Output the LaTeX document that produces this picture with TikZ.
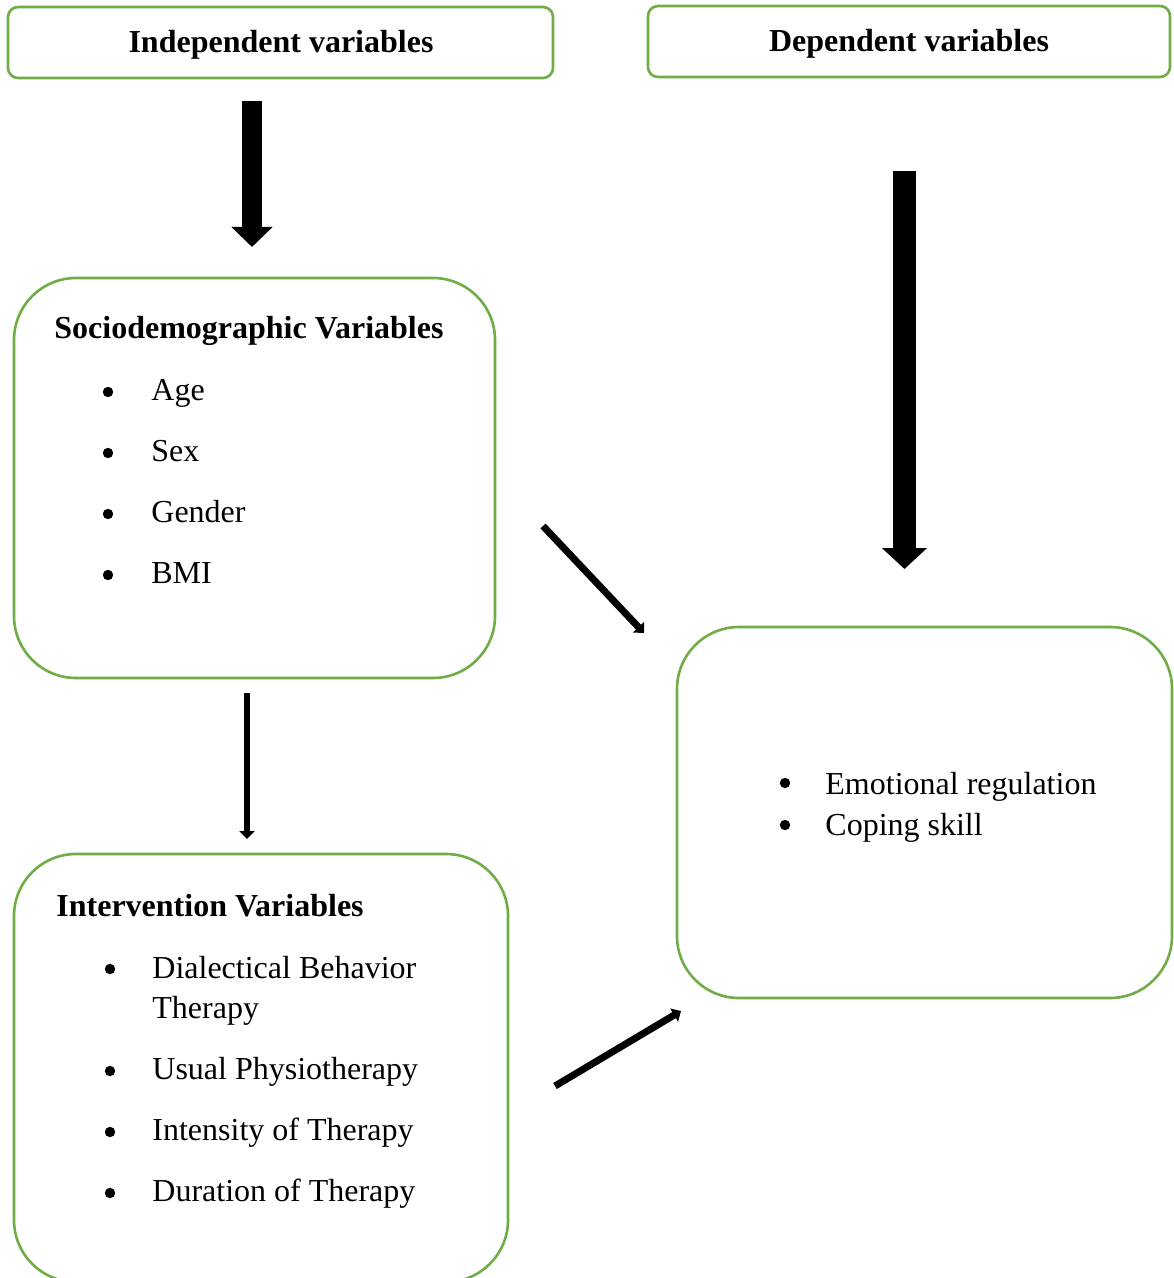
\documentclass[tikz,border=0pt]{standalone}
\usepackage{fontspec}
\setmainfont{Liberation Serif}
\usetikzlibrary{arrows.meta}
\definecolor{boxgreen}{RGB}{112,173,71}
\begin{document}
\begin{tikzpicture}[x=0.5pt,y=-0.5pt,
  frame/.style={draw=boxgreen,line width=1.3pt},
  txt/.style={anchor=base west,inner sep=0pt,font=\fontsize{16}{19}\selectfont},
  ttl/.style={anchor=base west,inner sep=0pt,font=\fontsize{16}{19}\selectfont\bfseries},
  bul/.style={circle,fill=black,inner sep=0pt,minimum size=5.2pt},
]
\useasboundingbox (0,0) rectangle (1173,1278);
\fill[white] (0,0) rectangle (1173,1278);

% header boxes
\draw[frame,rounded corners=5pt] (8,7) rectangle (553,78);
\node[anchor=base,inner sep=0pt,font=\fontsize{16}{19}\selectfont\bfseries] (indep) at (281,53) {Independent variables};
\draw[frame,rounded corners=5pt] (648,6) rectangle (1170,77);
\node[anchor=base,inner sep=0pt,font=\fontsize{16}{19}\selectfont\bfseries] (dep) at (909,52) {Dependent variables};

% main boxes
\draw[frame,rounded corners=31pt] (14,278) rectangle (495,678);
\draw[frame,rounded corners=31pt] (14,854) rectangle (508,1282);
\draw[frame,rounded corners=31pt] (677,627) rectangle (1172,998);

% socio
\node[ttl] (socT) at (54,339) {Sociodemographic Variables};
\foreach \t/\y [count=\i] in {Age/400,Sex/461,Gender/522,BMI/583}{
  \node[bul] (sb\i) at (108,\y-8) {};
  \node[txt] (si\i) at (151,\y) {\t};
}

% intervention
\node[ttl] (intT) at (56,916) {Intervention Variables};
\node[bul] (ib1) at (110,969) {};
\node[txt] (ii1) at (152,978) {Dialectical Behavior};
\node[txt] (ii1b) at (152,1018) {Therapy};
\foreach \t/\y [count=\i from 2] in {Usual Physiotherapy/1079,Intensity of Therapy/1140,Duration of Therapy/1201}{
  \node[bul] (ib\i) at (110,\y-8) {};
  \node[txt] (ii\i) at (152,\y) {\t};
}

% outcome
\node[bul] (ob1) at (785,783) {};
\node[txt] (oi1) at (825,794) {Emotional regulation};
\node[bul] (ob2) at (785,825) {};
\node[txt] (oi2) at (825,835) {Coping skill};

% arrow coordinates
\coordinate (a1s) at (252,101);
\coordinate (a1e) at (252,247);
\coordinate (a2s) at (904.5,171);
\coordinate (a2e) at (904.5,569);
\coordinate (a3s) at (247,693);
\coordinate (a3e) at (247,839);
\coordinate (a4s) at (543,526);
\coordinate (a4e) at (644,633);
\coordinate (a5s) at (555,1086);
\coordinate (a5e) at (681,1011);

\draw[line width=10pt,-{Triangle[width=20pt,length=10pt]}] (a1s) -- (a1e);
\draw[line width=11.5pt,-{Triangle[width=22pt,length=10.5pt]}] (a2s) -- (a2e);
\draw[line width=3pt,-{Triangle[width=7.5pt,length=4pt]}] (a3s) -- (a3e);
\draw[line width=3.5pt,-{Triangle[width=7.5pt,length=4pt]}] (a4s) -- (a4e);
\draw[line width=3.5pt,-{Triangle[width=7.5pt,length=4pt]}] (a5s) -- (a5e);
\end{tikzpicture}
\end{document}
